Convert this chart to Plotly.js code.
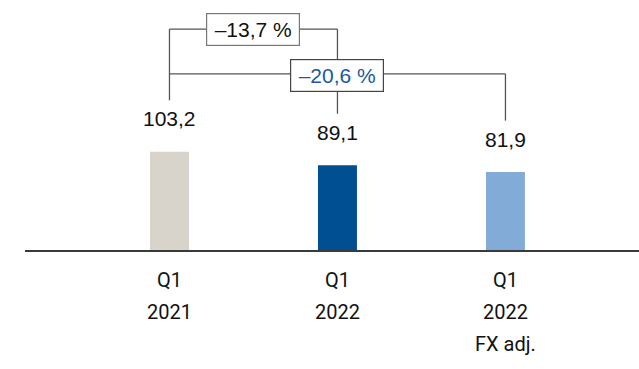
<!DOCTYPE html>
<html>
<head>
<meta charset="utf-8">
<script src="https://cdn.plot.ly/plotly-3.0.1.min.js"></script>
<style>
  html, body { margin: 0; padding: 0; background: #ffffff; }
  #chart { width: 639px; height: 369px; }
</style>
</head>
<body>
<div id="chart"></div>
<script>
// Quarterly values (comma-decimal formatting on display)
const categories = ['Q1 2021', 'Q1 2022', 'Q1 2022 FX adj.'];
const categoryLines = [['Q1', '2021'], ['Q1', '2022'], ['Q1', '2022', 'FX adj.']];
const values = [103.2, 89.1, 81.9];
const barColors = ['#d8d3cb', '#004f93', '#82acd7'];

// Change brackets: from category index -> to category index
const changeLabels = ['\u201313,7 %', '\u201320,6 %'];
const changeColors = ['#111111', '#1a5a9c'];

const fmt = v => v.toFixed(1).replace('.', ',');

const xIdx = categories.map((_, i) => i);

const trace = {
  type: 'bar',
  x: xIdx,
  y: values,
  width: 0.232,
  marker: { color: barColors, line: { width: 0 } },
  hoverinfo: 'skip'
};

// Bracket levels (data units)
const topLevel = 232;
const midLevel = 185;
const dropGap = 54;
const lineStyle = { color: '#555555', width: 1.3 };

const shapes = [
  // Upper bracket: Q1 2021 -> Q1 2022
  { type: 'line', xref: 'x', yref: 'y', x0: 0, x1: 0, y0: values[0] + dropGap, y1: topLevel, line: lineStyle },
  { type: 'line', xref: 'x', yref: 'y', x0: 0, x1: 1, y0: topLevel, y1: topLevel, line: lineStyle },
  { type: 'line', xref: 'x', yref: 'y', x0: 1, x1: 1, y0: topLevel, y1: values[1] + dropGap, line: lineStyle },
  // Lower bracket: Q1 2021 -> Q1 2022 FX adj.
  { type: 'line', xref: 'x', yref: 'y', x0: 0, x1: 2, y0: midLevel, y1: midLevel, line: lineStyle },
  { type: 'line', xref: 'x', yref: 'y', x0: 2, x1: 2, y0: midLevel, y1: values[2] + dropGap, line: lineStyle }
];

const labelFont = { family: 'Liberation Sans, Arial, sans-serif', size: 21, color: '#111111' };

const annotations = [];

// Value labels above bars
values.forEach((v, i) => {
  annotations.push({
    xref: 'x', yref: 'y', x: i, y: v,
    text: fmt(v), showarrow: false,
    yanchor: 'middle', yshift: 33,
    font: labelFont
  });
});

// Change boxes
annotations.push({
  xref: 'x', yref: 'y', x: 0.5, y: topLevel,
  text: changeLabels[0], showarrow: false,
  xanchor: 'center', yanchor: 'middle',
  bgcolor: '#ffffff', bordercolor: '#777777', borderwidth: 1.2, borderpad: 1,
  width: 90, height: 29,
  font: Object.assign({}, labelFont, { color: changeColors[0] })
});
annotations.push({
  xref: 'x', yref: 'y', x: 1, y: midLevel - 1.5,
  text: changeLabels[1], showarrow: false,
  xanchor: 'center', yanchor: 'middle',
  bgcolor: '#ffffff', bordercolor: '#444444', borderwidth: 1.2, borderpad: 1,
  width: 90, height: 29,
  font: Object.assign({}, labelFont, { color: changeColors[1] })
});

// Category labels below the baseline
categoryLines.forEach((lines, i) => {
  lines.forEach((line, k) => {
    annotations.push({
      xref: 'x', yref: 'paper', x: i, y: 0,
      text: line, showarrow: false,
      yanchor: 'middle', yshift: -(30 + 32 * k),
      font: { family: 'Roboto, Inter, sans-serif', size: 20, color: '#111111' }
    });
  });
});

const layout = {
  width: 639,
  height: 369,
  margin: { l: 25, r: 0, t: 0, b: 119, pad: 0 },
  paper_bgcolor: '#ffffff',
  plot_bgcolor: '#ffffff',
  showlegend: false,
  xaxis: {
    range: [-0.860, 2.795],
    showticklabels: false,
    showgrid: false,
    zeroline: false,
    showline: true,
    linecolor: '#3a3a3a',
    linewidth: 1.6,
    ticks: '',
    fixedrange: true
  },
  yaxis: {
    range: [0, 262.6],
    visible: false,
    showgrid: false,
    zeroline: false,
    fixedrange: true
  },
  shapes: shapes,
  annotations: annotations
};

Plotly.newPlot('chart', [trace], layout, { displayModeBar: false, staticPlot: true });
</script>
</body>
</html>
